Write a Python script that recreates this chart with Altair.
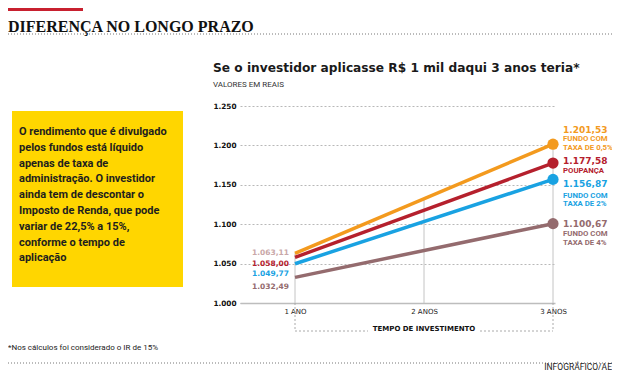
import altair as alt
import pandas as pd

# ---------------- data ----------------
series = ["Fundo com taxa de 0,5%", "Poupança", "Fundo com taxa de 2%", "Fundo com taxa de 4%"]
ano_1 = [1063.11, 1058.00, 1049.77, 1032.49]
ano_3 = [1201.53, 1177.58, 1156.87, 1100.67]
right_desc = [["FUNDO COM", "TAXA DE 0,5%"], ["POUPANÇA"], ["FUNDO COM", "TAXA DE 2%"], ["FUNDO COM", "TAXA DE 4%"]]
x_tick_labels = ["1 ANO", "2 ANOS", "3 ANOS"]
y_ticks = [1000, 1050, 1100, 1150, 1200, 1250]

title_text = "DIFERENÇA NO LONGO PRAZO"
subtitle_text = "Se o investidor aplicasse R$ 1 mil daqui 3 anos teria*"
unit_text = "VALORES EM REAIS"
axis_title = "TEMPO DE INVESTIMENTO"
box_text = ("O rendimento que é divulgado\npelos fundos está líquido\napenas de taxa de\n"
            "administração. O investidor\nainda tem de descontar o\nImposto de Renda, que pode\n"
            "variar de 22,5% a 15%,\nconforme o tempo de\naplicação")
footnote = "*Nos cálculos foi considerado o IR de 15%"
credit = "INFOGRÁFICO/AE"

# ---------------- style ----------------
colors = ["#F39A1E", "#B5202D", "#19A2E2", "#946B6E"]
left_label_colors = ["#C9A7A8", "#B5202D", "#19A2E2", "#946B6E"]
left_dy = [0, 7, 10, 10]
right_value_dy = [-14, -2, 5, 0]
right_desc_dy = [[-5, 4], [8], [17, 25], [10, 19]]
FONT = "Roboto"
NUMFONT = "DejaVu Sans"
W, H = 315, 197


def fmt_br(v):
    return f"{v:,.2f}".replace(",", "X").replace(".", ",").replace("X", ".")


rows = []
for s, a1, a3 in zip(series, ano_1, ano_3):
    rows.append({"serie": s, "ano": 1, "valor": a1})
    rows.append({"serie": s, "ano": 3, "valor": a3})
df = pd.DataFrame(rows)

xs = alt.Scale(domain=[0.5736, 3.0155], nice=False, zero=False)
ys = alt.Scale(domain=[1000, 1250], nice=False, zero=False)
cs = alt.Scale(domain=series, range=colors)

x_axis = alt.Axis(values=[1, 2, 3], title=None, grid=False, ticks=False,
                  domainColor="#bdbdbd", domainWidth=1.5, labelOverlap=False,
                  labelExpr=f"{x_tick_labels}[datum.value - 1]",
                  labelFont=NUMFONT, labelFontSize=7, labelColor="#222", labelPadding=4)
y_axis = alt.Axis(values=y_ticks, title=None, grid=True, gridDash=[2, 2], gridColor="#b8b8b8",
                  ticks=False, domain=False, labelOverlap=False,
                  labelExpr="replace(format(datum.value, ','), ',', '.')",
                  labelFont=NUMFONT, labelFontSize=7.3, labelFontWeight="bold", labelColor="#111",
                  labelPadding=4)


def X(field="ano"):
    return alt.X(f"{field}:Q", scale=xs, axis=x_axis)


def Y(field="valor"):
    return alt.Y(f"{field}:Q", scale=ys, axis=y_axis)


def txt(text, x, y, size, color="#222", weight="normal", align="left", baseline="middle",
        font=FONT, line_height=None):
    kw = dict(align=align, baseline=baseline, fontSize=size, color=color,
              fontWeight=weight, font=font)
    if line_height:
        kw["lineHeight"] = line_height
        kw["lineBreak"] = "\n"
    return alt.Chart(pd.DataFrame({"t": [text]})).mark_text(**kw).encode(
        x=alt.value(x), y=alt.value(y), text="t:N")


def hrule(x1, x2, y, color, width=1, dash=None):
    kw = dict(color=color, strokeWidth=width)
    if dash:
        kw["strokeDash"] = dash
    return alt.Chart(pd.DataFrame({"a": [0]})).mark_rule(**kw).encode(
        x=alt.value(x1), x2=alt.value(x2), y=alt.value(y))


# axes / grid base
base = alt.Chart(df).mark_line(opacity=0).encode(x=X(), y=Y(), detail="serie:N")

# vertical guides up to the top line
top_line = pd.DataFrame({"ano": [1, 2, 3],
                         "valor": [ano_1[0], (ano_1[0] + ano_3[0]) / 2, ano_3[0]]})
guides = alt.Chart(top_line).mark_rule(color="#c4c4c4", strokeWidth=1).encode(
    x=X(), y=Y(), y2=alt.datum(1000))

# bracket below x axis
bracket_df = pd.DataFrame({"ano": [1, 3]})
bracket_v = alt.Chart(bracket_df).mark_rule(color="#aaa", strokeDash=[2, 2]).encode(
    x=X(), y=alt.value(H), y2=alt.value(225))
bracket_h1 = hrule(55, 128, 225, "#aaa", 1, [2, 2])
bracket_h2 = hrule(240, 313, 225, "#aaa", 1, [2, 2])
bracket_t = alt.Chart(pd.DataFrame({"ano": [2], "t": [axis_title]})).mark_text(
    fontSize=7, fontWeight="bold", font=NUMFONT, color="#111", baseline="middle").encode(
    x=X(), y=alt.value(223), text="t:N")

lines = alt.Chart(df).mark_line(strokeWidth=3.5, strokeCap="butt").encode(
    x=X(), y=Y(), color=alt.Color("serie:N", scale=cs, legend=None))

dots = alt.Chart(df[df.ano == 3]).mark_circle(size=125, opacity=1).encode(
    x=X(), y=Y(), color=alt.Color("serie:N", scale=cs, legend=None))

label_layers = []
for i, s in enumerate(series):
    d1 = pd.DataFrame({"ano": [1], "valor": [ano_1[i]], "t": [fmt_br(ano_1[i])]})
    label_layers.append(alt.Chart(d1).mark_text(
        align="right", baseline="middle", dx=-6, dy=left_dy[i], fontSize=7.5,
        fontWeight="bold", font=NUMFONT, color=left_label_colors[i]).encode(
        x=X(), y=Y(), text="t:N"))
    d3 = pd.DataFrame({"ano": [3], "valor": [ano_3[i]], "t": [fmt_br(ano_3[i])]})
    label_layers.append(alt.Chart(d3).mark_text(
        align="left", baseline="middle", dx=10, dy=right_value_dy[i], fontSize=9,
        fontWeight="bold", font=NUMFONT, color=colors[i]).encode(
        x=X(), y=Y(), text="t:N"))
    for line, dy in zip(right_desc[i], right_desc_dy[i]):
        dd = pd.DataFrame({"ano": [3], "valor": [ano_3[i]], "t": [line]})
        label_layers.append(alt.Chart(dd).mark_text(
            align="left", baseline="middle", dx=10, dy=dy, fontSize=7.8,
            fontWeight="bold", font=FONT, color=colors[i]).encode(
            x=X(), y=Y(), text="t:N"))

# decoration (pixel coordinates relative to plot origin)
red_bar = hrule(-232, -157, -96.5, "#C8202F", 3)
title = txt(title_text, -232, -79, 16, color="#111", weight="bold", font="Liberation Serif")
dotted_top = hrule(-232, 372, -72, "#777", 1, [1, 2])
subtitle = txt(subtitle_text, -27, -38, 12.2, color="#1a1a1a", weight="bold", font=NUMFONT)
unit = txt(unit_text, -27, -21, 8, color="#333")
box = alt.Chart(pd.DataFrame({"a": [0]})).mark_rect(color="#FFD600").encode(
    x=alt.value(-228), x2=alt.value(-57), y=alt.value(5), y2=alt.value(181))
box_t = txt(box_text, -221, 26, 11, color="#1e1e1e", weight="bold", line_height=15.8)
foot = txt(footnote, -232, 242, 8, color="#222")
dotted_bot = hrule(-232, 372, 257, "#777", 1, [1, 2])
cred = txt(credit, 372, 264, 8.5, color="#222", align="right", baseline="alphabetic")

chart = alt.layer(
    base, guides, bracket_v, bracket_h1, bracket_h2, bracket_t, lines, dots, *label_layers,
    red_bar, title, dotted_top, subtitle, unit, box, box_t, foot, dotted_bot, cred
).properties(
    width=W, height=H,
    autosize=alt.AutoSizeParams(type="none"),
    padding={"left": 232, "top": 98, "right": 57, "bottom": 68},
    background="white",
).configure_view(stroke=None)

chart.save("out.html", embed_options={"renderer": "svg", "actions": False})
